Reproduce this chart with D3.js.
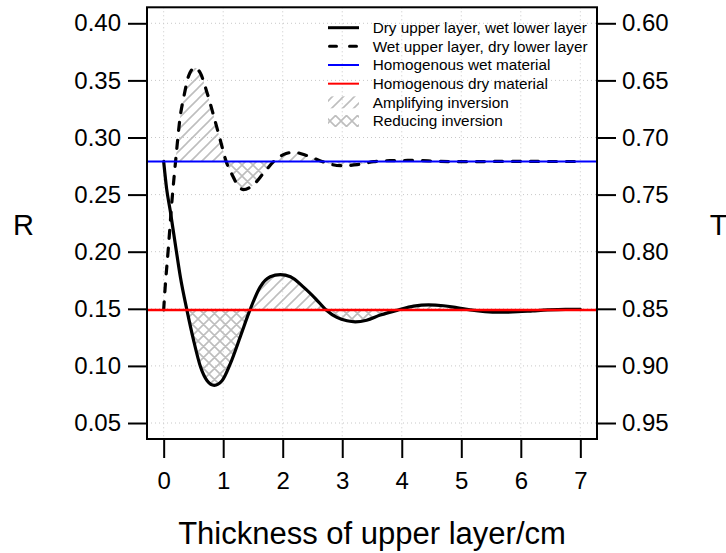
<!DOCTYPE html>
<html>
<head>
<meta charset="utf-8">
<script src="https://cdn.jsdelivr.net/npm/d3@7"></script>
<style>
  html, body { margin: 0; padding: 0; background: #fff; }
  svg { display: block; font-family: "Liberation Sans", Arial, Helvetica, sans-serif; }
</style>
</head>
<body>
<svg id="chart" width="726" height="553"></svg>
<script>
// Thickness ticks (cm) and reflectance / transmittance ticks
const xTicks = [0, 1, 2, 3, 4, 5, 6, 7];
const rTicks = [0.05, 0.10, 0.15, 0.20, 0.25, 0.30, 0.35, 0.40];
const tTicks = [0.60, 0.65, 0.70, 0.75, 0.80, 0.85, 0.90, 0.95];

// Reflectance of the homogeneous materials
const wetR = 0.279;
const dryR = 0.149;

// Dry upper layer on a wet lower layer
const solidX = [0, 0.05, 0.11, 0.2, 0.28, 0.39, 0.5, 0.62, 0.73, 0.85, 0.98, 1.12, 1.29, 1.45, 1.62, 1.79, 1.96, 2.13, 2.35, 2.55, 2.73, 2.91, 3.08, 3.22, 3.41, 3.64, 3.94, 4.2, 4.45, 4.7, 4.92, 5.15, 5.4, 5.65, 5.95, 6.2, 6.45, 6.75, 7.0];
const solidR = [0.279, 0.255, 0.236, 0.205, 0.178, 0.149, 0.123, 0.099, 0.087, 0.083, 0.087, 0.102, 0.126, 0.149, 0.169, 0.178, 0.180, 0.178, 0.169, 0.159, 0.149, 0.1425, 0.1395, 0.1386, 0.140, 0.1445, 0.149, 0.1523, 0.1535, 0.1527, 0.151, 0.149, 0.1475, 0.147, 0.1474, 0.1482, 0.149, 0.1495, 0.1495];

// Wet upper layer on a dry lower layer
const dashedX = [0, 0.02, 0.08, 0.14, 0.2, 0.28, 0.34, 0.42, 0.52, 0.62, 0.73, 0.84, 0.95, 1.05, 1.15, 1.26, 1.34, 1.51, 1.68, 1.85, 2.01, 2.18, 2.41, 2.66, 2.97, 3.25, 3.53, 3.8, 4.2, 4.6, 5.0, 5.5, 6.0, 6.5, 7.0];
const dashedR = [0.149, 0.165, 0.204, 0.245, 0.279, 0.319, 0.336, 0.354, 0.361, 0.356, 0.339, 0.319, 0.298, 0.279, 0.2674, 0.2572, 0.2543, 0.2587, 0.2689, 0.279, 0.285, 0.287, 0.2841, 0.279, 0.2753, 0.2762, 0.2788, 0.2797, 0.2799, 0.2792, 0.2788, 0.279, 0.2791, 0.279, 0.279];

const legendLabels = [
  "Dry upper layer, wet lower layer",
  "Wet upper layer, dry lower layer",
  "Homogenous wet material",
  "Homogenous dry material",
  "Amplifying inversion",
  "Reducing inversion"
];

const svg = d3.select("#chart");
const box = { left: 147, right: 597, top: 7.3, bottom: 439 };

const x = d3.scaleLinear().domain([-0.28, 7.28]).range([box.left, box.right]);
const y = d3.scaleLinear().domain([0.036, 0.414]).range([box.bottom, box.top]);
const yT = d3.scaleLinear().domain([1 - 0.036, 1 - 0.414]).range([box.bottom, box.top]);

// Hatch patterns
const defs = svg.append("defs");
const hatchColor = "#bebebe";
const P = 11;
const fwd = `M-1,1 l2,-2 M0,${P} l${P},-${P} M${P - 1},${P + 1} l2,-2`;
const back = `M-1,${P - 1} l2,2 M0,0 l${P},${P} M${P - 1},-1 l2,2`;
const diag = defs.append("pattern").attr("id", "hatch-diag")
  .attr("patternUnits", "userSpaceOnUse").attr("width", P).attr("height", P);
diag.append("path").attr("d", fwd)
  .attr("stroke", hatchColor).attr("stroke-width", 1.6).attr("fill", "none");
const cross = defs.append("pattern").attr("id", "hatch-cross")
  .attr("patternUnits", "userSpaceOnUse").attr("width", P).attr("height", P);
cross.append("path").attr("d", fwd + " " + back)
  .attr("stroke", hatchColor).attr("stroke-width", 1.6).attr("fill", "none");

// Grid
const grid = svg.append("g").attr("stroke", "#c8c8c8").attr("stroke-width", 1).attr("stroke-dasharray", "1,3");
grid.selectAll("line.v").data(xTicks).join("line")
  .attr("x1", d => x(d)).attr("x2", d => x(d)).attr("y1", box.top).attr("y2", box.bottom);
grid.selectAll("line.h").data(rTicks).join("line")
  .attr("x1", box.left).attr("x2", box.right).attr("y1", d => y(d)).attr("y2", d => y(d));

const toPts = (xs, rs) => xs.map((v, i) => ({ x: v, r: rs[i] }));
const solid = toPts(solidX, solidR);
const dashed = toPts(dashedX, dashedR);

// first crossing of the asymptote after the start
function firstCrossing(pts, base) {
  const s0 = Math.sign(pts[0].r - base);
  for (let i = 1; i < pts.length; i++) {
    const d = pts[i].r - base;
    if (d === 0) return pts[i].x;
    if (Math.sign(d) !== s0) {
      const a = pts[i - 1], b = pts[i];
      return a.x + (base - a.r) / (b.r - a.r) * (b.x - a.x);
    }
  }
  return pts[pts.length - 1].x;
}

const curve = d3.curveMonotoneX;
const line = d3.line().x(d => x(d.x)).y(d => y(d.r)).curve(curve);

function hatch(pts, base, id) {
  const xs = firstCrossing(pts, base);
  const area = d3.area().x(d => x(d.x)).y0(y(base)).y1(d => y(d.r)).curve(curve);
  defs.append("clipPath").attr("id", id + "-above").append("rect")
    .attr("x", x(xs)).attr("y", box.top).attr("width", box.right - x(xs)).attr("height", y(base) - box.top);
  defs.append("clipPath").attr("id", id + "-below").append("rect")
    .attr("x", x(xs)).attr("y", y(base)).attr("width", box.right - x(xs)).attr("height", box.bottom - y(base));
  svg.append("path").attr("d", area(pts)).attr("fill", "url(#hatch-diag)")
    .attr("clip-path", `url(#${id}-above)`);
  svg.append("path").attr("d", area(pts)).attr("fill", "url(#hatch-cross)")
    .attr("clip-path", `url(#${id}-below)`);
}
hatch(solid, dryR, "solid");
hatch(dashed, wetR, "dashed");

// Layered curves
svg.append("path").attr("d", line(solid)).attr("fill", "none")
  .attr("stroke", "#000").attr("stroke-width", 3.2).attr("stroke-linejoin", "round").attr("stroke-linecap", "round");
svg.append("path").attr("d", line(dashed)).attr("fill", "none")
  .attr("stroke", "#000").attr("stroke-width", 3.2).attr("stroke-dasharray", "8,10").attr("stroke-linecap", "round");

// Homogeneous references
svg.append("line").attr("x1", box.left).attr("x2", box.right).attr("y1", y(wetR)).attr("y2", y(wetR))
  .attr("stroke", "#0000ff").attr("stroke-width", 2);
svg.append("line").attr("x1", box.left).attr("x2", box.right).attr("y1", y(dryR)).attr("y2", y(dryR))
  .attr("stroke", "#ff0000").attr("stroke-width", 2.4);

// Axes
function styleAxis(g) {
  g.select(".domain").remove();
  g.selectAll(".tick line").attr("stroke", "#000").attr("stroke-width", 2);
  g.selectAll(".tick text").attr("fill", "#000").attr("font-size", 24)
    .attr("font-family", "'Liberation Sans', Arial, Helvetica, sans-serif");
}
svg.append("g").attr("transform", `translate(${box.left},0)`)
  .call(d3.axisLeft(y).tickValues(rTicks).tickFormat(d3.format(".2f")).tickSize(19).tickPadding(7))
  .call(styleAxis);
svg.append("g").attr("transform", `translate(${box.right},0)`)
  .call(d3.axisRight(yT).tickValues(tTicks).tickFormat(d3.format(".2f")).tickSize(19).tickPadding(6))
  .call(styleAxis);
svg.append("g").attr("transform", `translate(0,${box.bottom})`)
  .call(d3.axisBottom(x).tickValues(xTicks).tickFormat(d3.format("d")).tickSize(19).tickPadding(14))
  .call(styleAxis);

// Plot frame
svg.append("rect").attr("x", box.left).attr("y", box.top)
  .attr("width", box.right - box.left).attr("height", box.bottom - box.top)
  .attr("fill", "none").attr("stroke", "#000").attr("stroke-width", 2);

// Axis titles
svg.append("text").attr("x", (box.left + box.right) / 2).attr("y", 544)
  .attr("text-anchor", "middle").attr("font-size", 31).text("Thickness of upper layer/cm");
svg.append("text").attr("x", 23.5).attr("y", 235).attr("text-anchor", "middle").attr("font-size", 29).text("R");
svg.append("text").attr("x", 718.5).attr("y", 235).attr("text-anchor", "middle").attr("font-size", 29).text("T");

// Legend
const leg = svg.append("g");
const rowY = i => 27.7 + i * 18.66;
const lx0 = 328, lx1 = 359;
leg.append("line").attr("x1", lx0).attr("x2", lx1).attr("y1", rowY(0)).attr("y2", rowY(0))
  .attr("stroke", "#000").attr("stroke-width", 3);
leg.append("line").attr("x1", lx0 + 1.5).attr("x2", lx1).attr("y1", rowY(1)).attr("y2", rowY(1))
  .attr("stroke", "#000").attr("stroke-width", 3).attr("stroke-dasharray", "7,13").attr("stroke-linecap", "round");
leg.append("line").attr("x1", lx0).attr("x2", lx1).attr("y1", rowY(2)).attr("y2", rowY(2))
  .attr("stroke", "#0000ff").attr("stroke-width", 2);
leg.append("line").attr("x1", lx0).attr("x2", lx1).attr("y1", rowY(3)).attr("y2", rowY(3))
  .attr("stroke", "#ff0000").attr("stroke-width", 2);
leg.append("rect").attr("x", lx0).attr("y", rowY(4) - 6).attr("width", lx1 - lx0).attr("height", 12)
  .attr("fill", "url(#hatch-diag)");
leg.append("rect").attr("x", lx0).attr("y", rowY(5) - 6).attr("width", lx1 - lx0).attr("height", 12)
  .attr("fill", "url(#hatch-cross)");
leg.selectAll("text").data(legendLabels).join("text")
  .attr("x", 372.7).attr("y", (d, i) => rowY(i)).attr("dy", "0.35em")
  .attr("font-size", 15.3).attr("fill", "#000").text(d => d);
</script>
</body>
</html>
